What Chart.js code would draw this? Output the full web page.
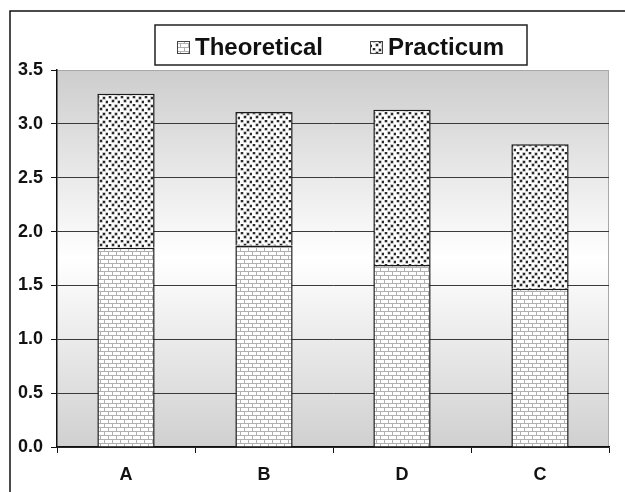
<!DOCTYPE html>
<html>
<head>
<meta charset="utf-8">
<script src="https://cdn.jsdelivr.net/npm/chart.js@4"></script>
<style>
  body { margin: 0; background: #fff; }
  canvas { display: block; }
</style>
</head>
<body>
<canvas id="chart" width="625" height="492"></canvas>
<script>
const categories = ['A', 'B', 'D', 'C'];
const theoretical = [1.85, 1.87, 1.69, 1.47];
const practicum = [1.43, 1.24, 1.44, 1.34];
const seriesNames = ['Theoretical', 'Practicum'];

const FONT = '"Liberation Sans", Arial, sans-serif';

// brick pattern for theoretical
function brickPattern() {
    const c = document.createElement('canvas');
    c.width = 8; c.height = 8;
    const g = c.getContext('2d');
    g.fillStyle = '#fff';
    g.fillRect(0, 0, 8, 8);
    g.fillStyle = '#b0b0b0';
    g.fillRect(0, 3, 8, 1);
    g.fillRect(0, 7, 8, 1);
    g.fillRect(0, 0, 1, 3);
    g.fillRect(4, 4, 1, 3);
    return g.createPattern(c, 'repeat');
}

// dotted pattern for practicum
function dotPattern() {
    const c = document.createElement('canvas');
    c.width = 12; c.height = 8;
    const g = c.getContext('2d');
    g.fillStyle = '#fff';
    g.fillRect(0, 0, 12, 8);
    const dots = [[1, 0], [7, 1], [4, 4], [10, 5]];
    dots.forEach(([x, y]) => {
        g.fillStyle = '#8a8a8a';
        g.fillRect(x - 0.5, y - 0.5, 3, 3);
        g.fillStyle = '#2a2a2a';
        g.fillRect(x, y, 2, 2);
    });
    return g.createPattern(c, 'repeat');
}

const fills = [brickPattern(), dotPattern()];

const backdrop = {
    id: 'backdrop',
    beforeDraw(chart) {
        const ctx = chart.ctx;
        const a = chart.chartArea;
        ctx.save();
        ctx.fillStyle = '#fff';
        ctx.fillRect(0, 0, chart.width, chart.height);
        // outer frame (top and left only visible)
        ctx.strokeStyle = '#111';
        ctx.lineWidth = 1.5;
        ctx.beginPath();
        ctx.moveTo(10, chart.height);
        ctx.lineTo(10, 11);
        ctx.lineTo(chart.width, 11);
        ctx.stroke();
        // plot area gradient
        const grad = ctx.createLinearGradient(0, a.top, 0, a.bottom);
        grad.addColorStop(0, '#cdcdcd');
        grad.addColorStop(0.5, '#ffffff');
        grad.addColorStop(1, '#d0d0d0');
        ctx.fillStyle = grad;
        ctx.fillRect(a.left, a.top, a.right - a.left, a.bottom - a.top);
        ctx.strokeStyle = '#a8a8a8';
        ctx.lineWidth = 1;
        ctx.beginPath();
        ctx.moveTo(a.left, a.top + 0.5);
        ctx.lineTo(a.right - 0.5, a.top + 0.5);
        ctx.lineTo(a.right - 0.5, a.bottom);
        ctx.stroke();
        ctx.restore();
    }
};

const boxedLegend = {
    id: 'boxedLegend',
    afterDraw(chart) {
        const ctx = chart.ctx;
        ctx.save();
        ctx.fillStyle = '#fff';
        ctx.fillRect(155, 25, 372, 40);
        ctx.strokeStyle = '#222';
        ctx.lineWidth = 1.5;
        ctx.strokeRect(155, 25, 372, 40);
        const xs = [177, 370];
        chart.data.datasets.forEach((ds, i) => {
            ctx.fillStyle = ds.backgroundColor;
            ctx.fillRect(xs[i], 41, 13, 13);
            ctx.strokeStyle = '#444';
            ctx.lineWidth = 1;
            ctx.strokeRect(xs[i] + 0.5, 41.5, 12, 12);
            ctx.fillStyle = '#111';
            ctx.font = 'bold 24px ' + FONT;
            ctx.textBaseline = 'alphabetic';
            ctx.fillText(ds.label, xs[i] + 18, 55);
        });
        ctx.restore();
    }
};

new Chart(document.getElementById('chart'), {
    type: 'bar',
    data: {
        labels: categories,
        datasets: [
            { label: seriesNames[0], data: theoretical, backgroundColor: fills[0] },
            { label: seriesNames[1], data: practicum, backgroundColor: fills[1] }
        ]
    },
    options: {
        responsive: false,
        animation: false,
        devicePixelRatio: 1,
        layout: { padding: { top: 70, left: 10, right: 16, bottom: 0 } },
        datasets: {
            bar: {
                borderColor: '#1a1a1a',
                borderWidth: 1.5,
                borderSkipped: 'start',
                categoryPercentage: 1,
                barPercentage: 0.415
            }
        },
        plugins: {
            legend: { display: false },
            tooltip: { enabled: false }
        },
        scales: {
            x: {
                stacked: true,
                afterFit: (s) => { s.height = 45; },
                grid: { display: true, drawOnChartArea: false, offset: true, tickLength: 6, color: '#111', lineWidth: 1 },
                border: { display: true, color: '#111', width: 1.5 },
                ticks: { color: '#111', padding: 11, font: { family: FONT, size: 18, weight: 'bold' } }
            },
            y: {
                stacked: true,
                min: 0,
                max: 3.5,
                afterFit: (s) => { s.width = 47; },
                grid: {
                    color: (c) => (c.tick && c.tick.value === 3.5 ? '#a8a8a8' : '#3a3a3a'),
                    tickColor: '#111',
                    tickLength: 6,
                    lineWidth: 1
                },
                border: { display: true, color: '#111', width: 1.5 },
                ticks: {
                    stepSize: 0.5,
                    color: '#111',
                    padding: 8,
                    font: { family: FONT, size: 18, weight: 'bold' },
                    callback: (v) => Number(v).toFixed(1)
                }
            }
        }
    },
    plugins: [backdrop, boxedLegend]
});
</script>
</body>
</html>
